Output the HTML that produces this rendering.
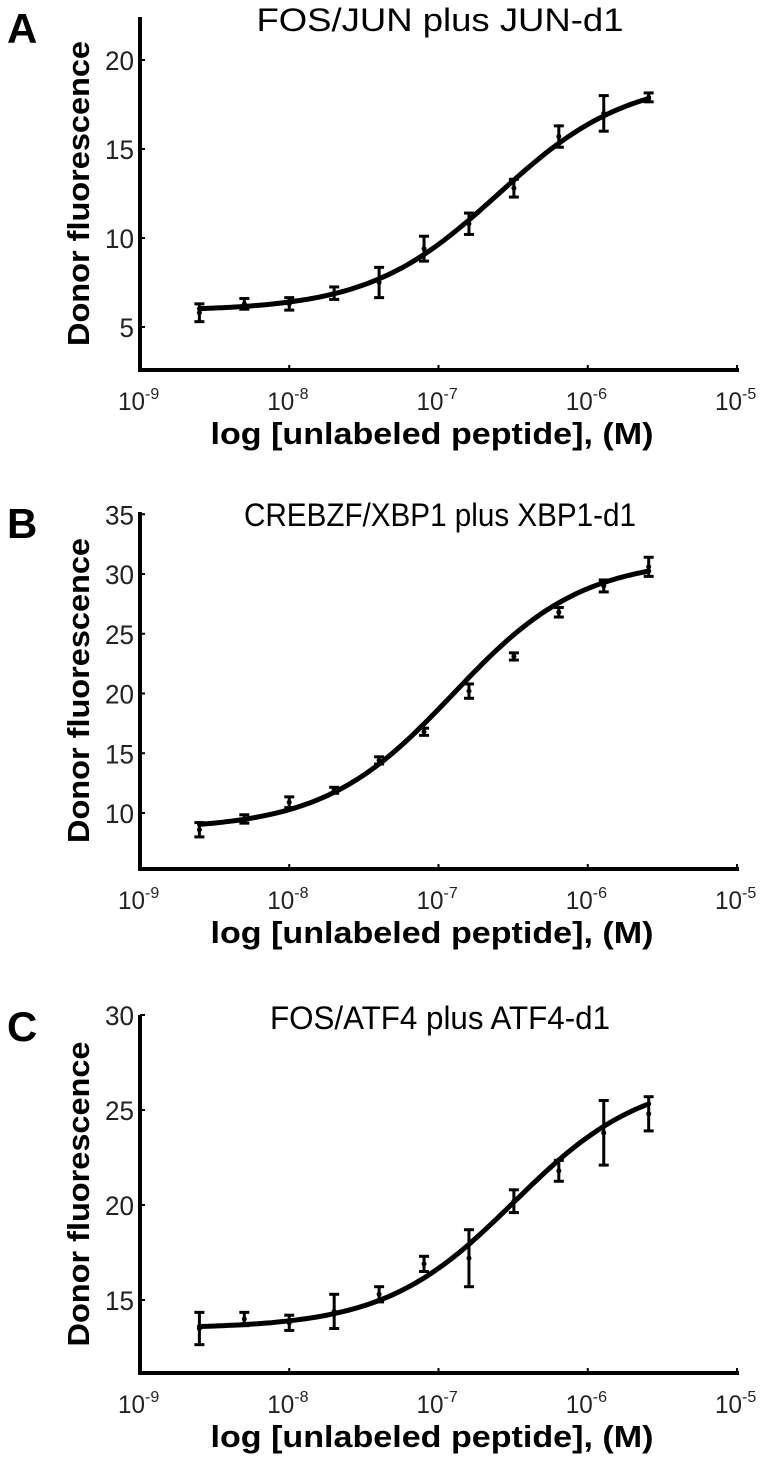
<!DOCTYPE html>
<html><head><meta charset="utf-8"><style>
body{margin:0;background:#fff;}
svg{display:block;font-family:"Liberation Sans",sans-serif;}
</style></head><body>
<svg id="fig" width="763" height="1468" viewBox="0 0 763 1468"></svg>
<script>
const concentrations=[2.5e-9,5e-9,1e-8,2e-8,4e-8,8e-8,1.6e-7,3.2e-7,6.4e-7,1.28e-6,2.56e-6];
const xTickLabels=["-9","-8","-7","-6","-5"];
const titles=["FOS/JUN plus JUN-d1","CREBZF/XBP1 plus XBP1-d1","FOS/ATF4 plus ATF4-d1"];
const titleWidths=[367,392,340];
const letters=["A","B","C"];
const valuesA=[5.8,6.3,6.3,6.9,7.5,9.4,10.8,12.8,15.7,17.0,17.9];
const errorsA=[0.5,0.3,0.35,0.35,0.85,0.7,0.6,0.5,0.6,1.0,0.25];
const valuesB=[8.6,9.5,10.9,11.9,14.4,16.8,20.2,23.1,26.8,29.0,30.6];
const errorsB=[0.6,0.35,0.45,0.25,0.3,0.3,0.6,0.3,0.4,0.5,0.8];
const valuesC=[13.5,14.0,13.8,14.4,15.3,16.9,17.2,20.2,21.8,23.8,24.8];
const errorsC=[0.85,0.35,0.4,0.9,0.4,0.4,1.5,0.6,0.55,1.7,0.9];
const yTicksA=[5,10,15,20];
const yTicksB=[10,15,20,25,30,35];
const yTicksC=[15,20,25,30];
const fitA=[5.9,19.0,2.5e-7,1.0];
const fitB=[8.6,31.3,1.25e-7,1.0];
const fitC=[13.5,26.8,3.2e-7,1.0];

const NS="http://www.w3.org/2000/svg";
const svg=document.getElementById('fig');
function mk(tag,attrs,parent){const e=document.createElementNS(NS,tag);for(const k in attrs)e.setAttribute(k,attrs[k]);(parent||svg).appendChild(e);return e;}

const panels=[
 {vals:valuesA,errs:errorsA,ticks:yTicksA,fit:fitA,top:17,axisY:370,v0:20,y0:60,v1:5,y1:327},
 {vals:valuesB,errs:errorsB,ticks:yTicksB,fit:fitB,top:512,axisY:869,v0:30,y0:574,v1:10,y1:813},
 {vals:valuesC,errs:errorsC,ticks:yTicksC,fit:fitC,top:1015,axisY:1373,v0:25,y0:1110,v1:15,y1:1300}
];
const X0=140,X1=737;
function xs(c){return X0+(Math.log10(c)+9)/4*(X1-X0);}

panels.forEach((p,i)=>{
 const ys=v=>p.y0+(v-p.v0)*(p.y1-p.y0)/(p.v1-p.v0);
 const g=mk('g',{});
 
 
 const L=mk('text',{x:7,y:p.top+26,'font-size':42,'font-weight':'bold'},g);L.textContent=letters[i];
 
 const T=mk('text',{x:440,y:p.top+14,'font-size':32,'text-anchor':'middle',textLength:titleWidths[i],lengthAdjust:'spacingAndGlyphs'},g);T.textContent=titles[i];
 
 const ya=mk('line',{x1:X0,y1:p.top,x2:X0,y2:p.axisY,stroke:'#000','stroke-width':4},g);
 
 const xa=mk('line',{x1:X0-2,y1:p.axisY,x2:X1+2,y2:p.axisY,stroke:'#000','stroke-width':4},g);
 
 p.ticks.forEach(t=>{const y=ys(t);
  mk('line',{x1:X0,y1:y,x2:X0+5,y2:y,stroke:'#000','stroke-width':2},g);
  const tl=mk('text',{x:X0-6,y:y+10,'font-size':27,'text-anchor':'end','fill':'#222',textLength:String(t).length*14.5,lengthAdjust:'spacingAndGlyphs'},g);tl.textContent=t;
  });
 xTickLabels.forEach((lab,k)=>{const x=X0+k*(X1-X0)/4;
  mk('line',{x1:x,y1:p.axisY,x2:x,y2:p.axisY-5,stroke:'#000','stroke-width':2},g);
  const tl=mk('text',{x:x-22,y:p.axisY+40,'font-size':25,'fill':'#222'},g);
  const a=mk('tspan',{textLength:27,lengthAdjust:'spacingAndGlyphs'},tl);a.textContent='10';
  const s=mk('tspan',{dy:-11,'font-size':16},tl);s.textContent=lab;
  });
 const xt=mk('text',{x:432,y:p.axisY+74,'font-size':31,'font-weight':'bold','text-anchor':'middle',textLength:443,lengthAdjust:'spacingAndGlyphs'},g);
 xt.textContent='log [unlabeled peptide], (M)';
 
 const cy=p.top+(p.axisY-p.top)*0.5;
 const yt=mk('text',{x:89,y:cy,'font-size':31,'font-weight':'bold','text-anchor':'middle',transform:'rotate(-90 89 '+cy+')',textLength:305,lengthAdjust:'spacingAndGlyphs'},g);
 yt.textContent='Donor fluorescence';
 
 const [b,tp,ec,h]=p.fit;let d='';
 for(let k=0;k<=100;k++){const lc=Math.log10(concentrations[0])+k/100*(Math.log10(concentrations[10])-Math.log10(concentrations[0]));
  const c=Math.pow(10,lc);const v=b+(tp-b)/(1+Math.pow(ec/c,h));d+=(k?'L':'M')+xs(c).toFixed(1)+' '+ys(v).toFixed(1);}
 const fc=mk('path',{d:d,fill:'none',stroke:'#000','stroke-width':5,'stroke-linecap':'round'},g);
 
 concentrations.forEach((c,k)=>{const x=xs(c),v=p.vals[k],e=p.errs[k];
  const eg=mk('g',{},g);
  
  mk('line',{x1:x,y1:ys(v+e),x2:x,y2:ys(v-e),stroke:'#000','stroke-width':3},eg);
  mk('line',{x1:x-5,y1:ys(v+e),x2:x+5,y2:ys(v+e),stroke:'#000','stroke-width':3},eg);
  mk('line',{x1:x-5,y1:ys(v-e),x2:x+5,y2:ys(v-e),stroke:'#000','stroke-width':3},eg);
  mk('circle',{cx:x,cy:ys(v),r:2.5,fill:'#000'},eg);});
});
</script>
</body></html>
